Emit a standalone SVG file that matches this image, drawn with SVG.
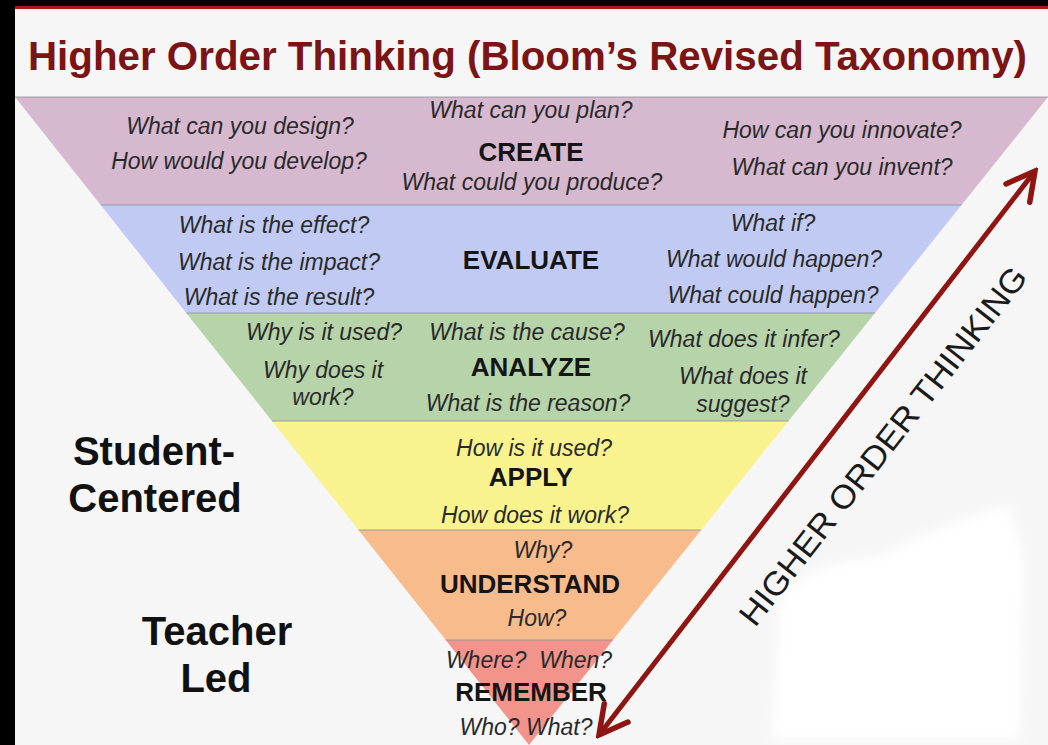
<svg xmlns="http://www.w3.org/2000/svg" width="1048" height="745" viewBox="0 0 1048 745">
<style>
.q{font-family:"Liberation Sans",Arial,sans-serif;font-style:italic;font-size:23px;fill:#2a2a2a;text-anchor:middle}
.lv{font-family:"Liberation Sans",Arial,sans-serif;font-weight:bold;font-size:26px;fill:#151515;text-anchor:middle}
.side{font-family:"Liberation Sans",Arial,sans-serif;font-weight:bold;font-size:40px;fill:#111;text-anchor:middle}
.sep{stroke:#8f8f9c;stroke-opacity:0.55;stroke-width:1.5}
</style>
<defs>
<marker id="chev" viewBox="-32 -18 36 36" refX="0" refY="0" markerWidth="36" markerHeight="36" markerUnits="userSpaceOnUse" orient="auto-start-reverse">
<path d="M -28 -15 L 0 0 L -28 15" fill="none" stroke="#8e1512" stroke-width="5.5" stroke-linecap="round" stroke-linejoin="miter"/>
</marker>
<filter id="soft" x="-10%" y="-10%" width="120%" height="120%"><feGaussianBlur stdDeviation="6"/></filter>
</defs>
<rect x="0" y="0" width="1048" height="745" fill="#f6f6f6"/>
<path d="M 780 600 Q 800 565 880 556 Q 940 525 1010 505 L 1024 560 L 1020 740 L 772 740 Z" fill="#ffffff" filter="url(#soft)"/>
<rect x="0" y="0" width="1048" height="6" fill="#000"/>
<rect x="0" y="6" width="1048" height="3" fill="#a31b1b"/>
<rect x="0" y="0" width="15" height="745" fill="#000"/>
<text id="title" x="28" y="70" textLength="999" lengthAdjust="spacingAndGlyphs" style="font-family:'Liberation Sans',Arial,sans-serif;font-weight:bold;font-size:40px;fill:#7b1414">Higher Order Thinking (Bloom’s Revised Taxonomy)</text>

<g id="create">
<polygon points="15,97 1048,97 961.5,205 100.7,205" fill="#d6b8cf"/>
<line class="sep" x1="15" y1="97" x2="1048" y2="97"/>
<text class="q" x="240" y="134">What can you design?</text>
<text class="q" x="239" y="169">How would you develop?</text>
<text class="q" x="531" y="118">What can you plan?</text>
<text class="lv" x="531" y="161">CREATE</text>
<text class="q" x="532" y="190">What could you produce?</text>
<text class="q" x="842" y="138">How can you innovate?</text>
<text class="q" x="842" y="175">What can you invent?</text>
</g>

<g id="evaluate">
<polygon points="100.7,205 961.5,205 875,313 186.3,313" fill="#c0caf2"/>
<line class="sep" x1="100.7" y1="205" x2="961.5" y2="205"/>
<text class="q" x="274" y="233">What is the effect?</text>
<text class="q" x="279" y="270">What is the impact?</text>
<text class="q" x="279" y="305">What is the result?</text>
<text class="lv" x="531" y="269">EVALUATE</text>
<text class="q" x="773" y="231">What if?</text>
<text class="q" x="774" y="267">What would happen?</text>
<text class="q" x="773" y="303">What could happen?</text>
</g>

<g id="analyze">
<polygon points="186.3,313 875,313 788.5,421 272,421" fill="#b6d3a9"/>
<line class="sep" x1="186.3" y1="313" x2="875" y2="313"/>
<text class="q" x="324" y="340">Why is it used?</text>
<text class="q" x="323" y="378">Why does it</text>
<text class="q" x="323" y="405">work?</text>
<text class="q" x="527" y="340">What is the cause?</text>
<text class="lv" x="531" y="376">ANALYZE</text>
<text class="q" x="528" y="411">What is the reason?</text>
<text class="q" x="744" y="347">What does it infer?</text>
<text class="q" x="743" y="384">What does it</text>
<text class="q" x="743" y="412">suggest?</text>
</g>

<g id="apply">
<polygon points="272,421 788.5,421 701.2,530 358.5,530" fill="#f8f38f"/>
<line class="sep" x1="272" y1="421" x2="788.5" y2="421"/>
<text class="q" x="534" y="456">How is it used?</text>
<text class="lv" x="531" y="486">APPLY</text>
<text class="q" x="535" y="523">How does it work?</text>
</g>

<g id="understand">
<polygon points="358.5,530 701.2,530 613,640 445.7,640" fill="#f7bb8c"/>
<line class="sep" x1="358.5" y1="530" x2="701.2" y2="530"/>
<text class="q" x="543" y="558">Why?</text>
<text class="lv" x="530" y="593">UNDERSTAND</text>
<text class="q" x="537" y="626">How?</text>
</g>

<g id="remember">
<polygon points="445.7,640 613,640 529,745" fill="#f2948b"/>
<line class="sep" x1="445.7" y1="640" x2="613" y2="640"/>
<text class="q" x="529" y="668">Where?&#160; When?</text>
<text class="lv" x="531" y="701">REMEMBER</text>
<text class="q" x="526" y="735">Who? What?</text>
</g>

<g id="student-centered">
<text class="side" x="154" y="465">Student-</text>
<text class="side" x="155" y="512">Centered</text>
</g>

<g id="teacher-led">
<text class="side" x="217" y="645">Teacher</text>
<text class="side" x="216" y="692">Led</text>
</g>

<g id="connectors">
<line x1="599" y1="735" x2="1035" y2="171" stroke="#8e1512" stroke-width="5" marker-start="url(#chev)" marker-end="url(#chev)"/>
<text id="higher-order" x="0" y="0" text-anchor="middle" textLength="445" lengthAdjust="spacingAndGlyphs" transform="translate(892,453) rotate(-52)" style="font-family:'Liberation Sans',Arial,sans-serif;font-size:33px;fill:#1a1a1a">HIGHER ORDER THINKING</text>
</g>
</svg>
